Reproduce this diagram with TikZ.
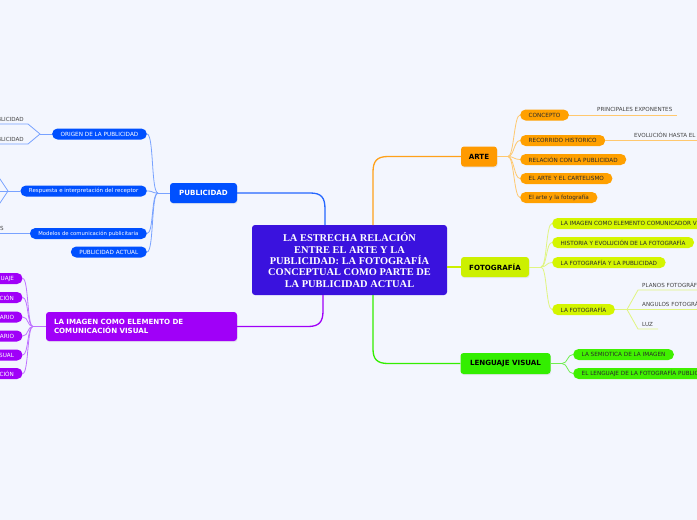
\documentclass[tikz,border=0pt]{standalone}
\usepackage{fontspec}
\setmainfont{Liberation Serif}
\setsansfont{DejaVu Sans}
\usetikzlibrary{calc,shadows}
\definecolor{bg}{HTML}{F3F6FE}
\definecolor{central}{HTML}{3A12DE}
\definecolor{pubblue}{HTML}{0050FF}
\definecolor{publine}{HTML}{78A2FF}
\definecolor{pubmain}{HTML}{2567FF}
\definecolor{purp}{HTML}{A000F8}
\definecolor{purpline}{HTML}{BE72FF}
\definecolor{orng}{HTML}{FF9A00}
\definecolor{orngpill}{HTML}{FFA000}
\definecolor{ornglinec}{HTML}{FFC86E}
\definecolor{orngmain}{HTML}{FFA11A}
\definecolor{lime}{HTML}{CCF000}
\definecolor{limepill}{HTML}{D4F500}
\definecolor{limeline}{HTML}{E0F580}
\definecolor{grn}{HTML}{33EE00}
\definecolor{grnpill}{HTML}{40F000}
\definecolor{grnline}{HTML}{70EE50}
\definecolor{darktxt}{HTML}{2A2A2A}
\definecolor{leaftxt}{HTML}{444444}
\begin{document}
\begin{tikzpicture}[x=1pt,y=-1pt,
  mainbox/.style={rounded corners=3pt, minimum height=20pt, inner sep=0pt,
    font=\sffamily\bfseries\fontsize{7.1}{9.5}\selectfont,
    drop shadow={opacity=0.12, shadow xshift=0.6pt, shadow yshift=-1.2pt}},
  pill/.style={rounded corners=5.4pt, minimum height=11pt, inner ysep=0pt, inner xsep=8.5pt,
    font=\sffamily\fontsize{5.7}{6.8}\selectfont},
  leaf/.style={inner sep=0pt, font=\sffamily\fontsize{5.6}{6.5}\selectfont, text=leaftxt},
  bluepill/.style={pill, fill=pubblue, text=white},
  purppill/.style={pill, fill=purp, text=white},
  orngpillst/.style={pill, fill=orngpill, text=darktxt},
  limepillst/.style={pill, fill=limepill, text=darktxt},
  grnpillst/.style={pill, fill=grnpill, text=darktxt},
  bline/.style={draw=publine, line width=0.8pt},
  pline/.style={draw=purpline, line width=0.8pt},
  oline/.style={draw=ornglinec, line width=0.8pt},
  lline/.style={draw=limeline, line width=0.8pt},
  gline/.style={draw=grnline, line width=0.8pt},
]
\useasboundingbox[fill=bg] (0,0) rectangle (697,520);

% central
\node[fill=central, rounded corners=3pt, minimum width=195pt, minimum height=70pt, inner sep=0pt,
  text=white, align=center, font=\bfseries\fontsize{10.4}{11.3}\selectfont] (central) at (349.5,260)
  {LA ESTRECHA RELACIÓN\\ENTRE EL ARTE Y LA\\PUBLICIDAD: LA FOTOGRAFÍA\\CONCEPTUAL COMO PARTE DE\\LA PUBLICIDAD ACTUAL};

% main nodes
\node[mainbox, fill=pubblue, text=white, minimum width=67pt] (pub) at (203.5,193) {PUBLICIDAD};
\node[mainbox, fill=purp, text=white, minimum width=191pt, minimum height=29pt, text width=175pt, align=left] (img) at (141.5,326.5) {LA IMAGEN COMO ELEMENTO DE\\COMUNICACIÓN VISUAL};
\node[mainbox, fill=orng, text=black, minimum width=36pt] (arte) at (479,156.5) {ARTE};
\node[mainbox, fill=lime, text=black, minimum width=68pt] (foto) at (495,267) {FOTOGRAFÍA};
\node[mainbox, fill=grn, text=black, minimum width=90pt, minimum height=21pt] (leng) at (505.5,363.5) {LENGUAJE VISUAL};

% main connectors
\coordinate (c1) at (325,225);
\coordinate (c2) at (373,225);
\coordinate (c3) at (323,295);
\coordinate (c4) at (373,295);
\coordinate (c5) at (447,267);
\draw[draw=pubmain, line width=1.3pt] (c1) -- (325,209) .. controls (325,197) and (321,193) .. (310,193) -- (pub.east);
\draw[draw=orngmain, line width=1.3pt] (c2) -- (373,172) .. controls (373,161) and (377,156.5) .. (388,156.5) -- (arte.west);
\draw[draw=purp, line width=1.3pt] (c3) -- (323,311) .. controls (323,322) and (319,326.5) .. (308,326.5) -- (img.east);
\draw[draw=grn, line width=1.3pt] (c4) -- (373,349) .. controls (373,359) and (377,363.5) .. (388,363.5) -- (leng.west);
\draw[draw=lime, line width=1.3pt] (c5) -- (foto.west);

% PUBLICIDAD children
\node[bluepill, anchor=east] (origen) at (147,134) {ORIGEN DE LA PUBLICIDAD};
\node[bluepill, anchor=east, font=\sffamily\fontsize{5.5}{6.8}\selectfont] (resp) at (147,191) {Respuesta e interpretación del receptor};
\node[bluepill, anchor=east, font=\sffamily\fontsize{5.3}{6.8}\selectfont] (modelos) at (147,233.5) {Modelos de comunicación publicitaria};
\node[bluepill, anchor=east] (pactual) at (147,252) {PUBLICIDAD ACTUAL};
\coordinate (pj) at (158,193);
\draw[bline] (pub.west) -- (pj);
\foreach \c in {origen,resp,modelos,pactual}
  \draw[bline] (pj) .. controls +(-7,0) and +(7,0) .. (\c.east);

% ORIGEN leaves
\node[leaf, anchor=base east] (o1) at (24,121) {PUBLICIDAD};
\node[leaf, anchor=base east] (o2) at (24,141) {PUBLICIDAD};
\coordinate (oj) at (40,134);
\coordinate (o1a) at (28,124);
\coordinate (o1b) at (-5,124);
\coordinate (o2a) at (28,144);
\coordinate (o2b) at (-5,144);
\draw[bline] (origen.west) -- (oj);
\draw[bline] (oj) -- (o1a) -- (o1b);
\draw[bline] (oj) -- (o2a) -- (o2b);

% Respuesta leaves
\coordinate (rj) at (8,191);
\coordinate (r1) at (-2,176);
\coordinate (r2) at (-5,191);
\coordinate (r3) at (-2,206);
\draw[bline] (resp.west) -- (rj);
\draw[bline] (rj) -- (r1);
\draw[bline] (rj) -- (r2);
\draw[bline] (rj) -- (r3);

% Modelos leaf
\node[leaf, anchor=base east] (m1) at (3.8,230) {S};
\coordinate (mj) at (-5,233.5);
\draw[bline] (modelos.west) -- (mj);

% purple children
\node[purppill, anchor=east] (p1) at (22.7,278.5) {UAJE};
\node[purppill, anchor=east] (p2) at (22.7,297.5) {CIÓN};
\node[purppill, anchor=east] (p3) at (22.7,317) {ARIO};
\node[purppill, anchor=east] (p4) at (22.7,336) {ARIO};
\node[purppill, anchor=east] (p5) at (22.7,355) {SUAL};
\node[purppill, anchor=east] (p6) at (22.7,373.5) {CIÓN};
\coordinate (ij) at (33,326.5);
\draw[pline] (img.west) -- (ij);
\foreach \c in {p1,p2,p3,p4,p5,p6}
  \draw[pline] (ij) .. controls +(-6,0) and +(6,0) .. (\c.east);

% ARTE children
\node[orngpillst, anchor=west] (concepto) at (520,115) {CONCEPTO};
\node[orngpillst, anchor=west] (recorrido) at (520,140.5) {RECORRIDO HISTORICO};
\node[orngpillst, anchor=west] (relacion) at (520,159.5) {RELACIÓN CON LA PUBLICIDAD};
\node[orngpillst, anchor=west] (cartel) at (520,178.5) {EL ARTE Y EL CARTELISMO};
\node[orngpillst, anchor=west] (artefoto) at (520,197.5) {El arte y la fotografía};
\coordinate (aj) at (508,156.5);
\draw[oline] (arte.east) -- (aj);
\foreach \c in {concepto,recorrido,relacion,cartel,artefoto}
  \draw[oline] (aj) .. controls +(6,0) and +(-6,0) .. (\c.west);
\node[leaf, anchor=base west] (expo) at (597,111.5) {PRINCIPALES EXPONENTES};
\coordinate (expoend) at (677,115);
\draw[oline] (concepto.east) -- (expoend);
\node[leaf, anchor=base west] (evol) at (634,137) {EVOLUCIÓN HASTA EL};
\coordinate (evolend) at (700,140.5);
\draw[oline] (recorrido.east) -- (evolend);

% FOTOGRAFIA children
\node[limepillst, anchor=west] (fimg) at (552,223.5) {LA IMAGEN COMO ELEMENTO COMUNICADOR VISUAL};
\node[limepillst, anchor=west] (fhist) at (552,242.5) {HISTORIA Y EVOLUCIÓN DE LA FOTOGRAFÍA};
\node[limepillst, anchor=west] (fpub) at (552,262.5) {LA FOTOGRAFÍA Y LA PUBLICIDAD};
\node[limepillst, anchor=west] (ffoto) at (552,309.5) {LA FOTOGRAFÍA};
\coordinate (fj) at (541,267);
\draw[lline] (foto.east) -- (fj);
\foreach \c in {fimg,fhist,fpub,ffoto}
  \draw[lline] (fj) .. controls +(6,0) and +(-6,0) .. (\c.west);

% LA FOTOGRAFIA leaves
\coordinate (gj) at (627,309.5);
\coordinate (g1a) at (638,290);
\coordinate (g1b) at (700,290);
\coordinate (g2b) at (700,309.5);
\coordinate (g3a) at (638,329);
\coordinate (g3b) at (658,329);
\draw[lline] (ffoto.east) -- (gj);
\draw[lline] (gj) -- (g1a) -- (g1b);
\draw[lline] (gj) -- (g2b);
\draw[lline] (gj) -- (g3a) -- (g3b);
\node[leaf, anchor=base west] (planos) at (642,287) {PLANOS FOTOGRÁFICOS};
\node[leaf, anchor=base west] (angulos) at (642,306) {ANGULOS FOTOGRÁFICOS};
\node[leaf, anchor=base west] (luz) at (642,326) {LUZ};

% LENGUAJE children
\node[grnpillst, anchor=west] (semi) at (573,354.5) {LA SEMIOTICA DE LA IMAGEN};
\node[grnpillst, anchor=west] (lenfoto) at (573,373.5) {EL LENGUAJE DE LA FOTOGRAFÍA PUBLICITARIA};
\coordinate (lj) at (562,363.5);
\draw[gline] (leng.east) -- (lj);
\foreach \c in {semi,lenfoto}
  \draw[gline] (lj) .. controls +(6,0) and +(-6,0) .. (\c.west);
\end{tikzpicture}
\end{document}
